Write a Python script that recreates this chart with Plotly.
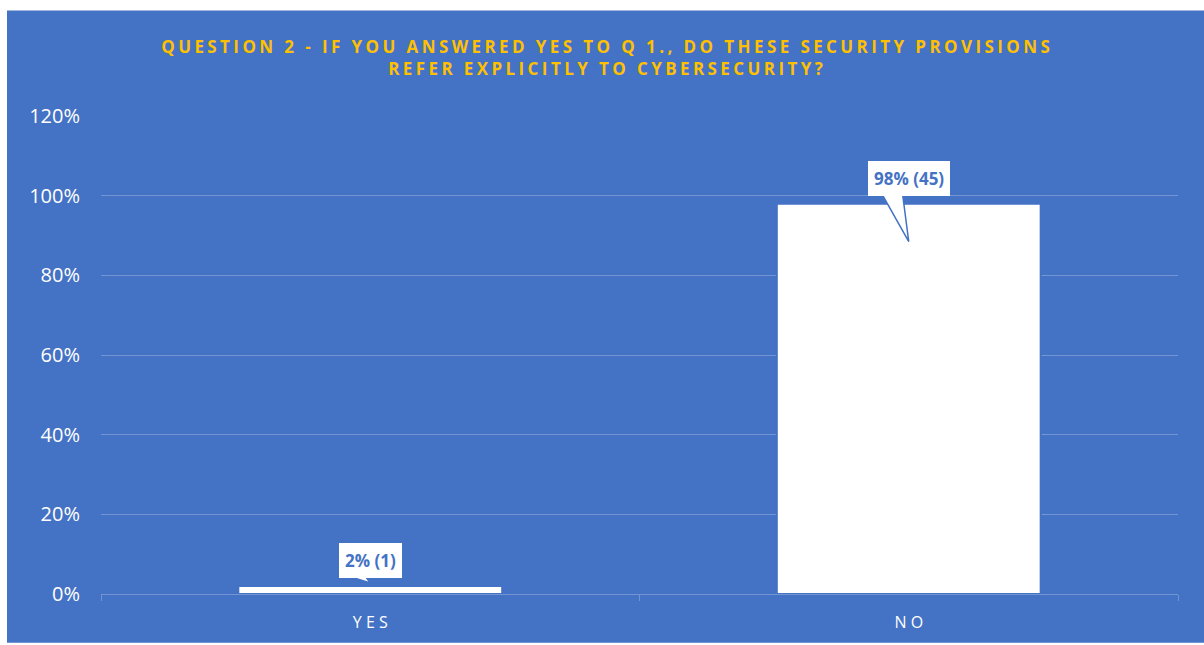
import plotly.graph_objects as go

# Survey answers
categories = ["YES", "NO"]
tick_labels = ["Y E S", "N O"]
shares = [2, 98]        # percent of respondents
counts = [1, 45]        # number of respondents
y_ticks = [0, 20, 40, 60, 80, 100, 120]

TITLE_LINES = [
    "QUESTION 2 - IF YOU ANSWERED YES TO Q 1., DO THESE SECURITY PROVISIONS",
    "REFER EXPLICITLY TO CYBERSECURITY?",
]

# Styling
BG = "#4472C4"
GOLD = "#FFC000"
GRID = "#7395D3"
FONT = "Open Sans"
W, H = 1204, 645
M = dict(l=101, r=26, t=116, b=49)
FRAME_LEFT, FRAME_TOP = 7, 10   # white strip left/top of the panel
Y_MAX = 120
CALLOUT_GAP = 2                  # label box sits this far above the bar top (%)
callout_tip = [0.75, -9.5]       # pointer tip relative to the bar top (%)


def spaced(text, sep="\u200a\u200a"):
    """Widen the letter spacing with hair spaces."""
    return sep.join(text)


fig = go.Figure()
fig.add_bar(
    x=categories,
    y=shares,
    width=0.49,
    marker=dict(color="white", line=dict(color=BG, width=2)),
    hoverinfo="skip",
)

shapes = []
annotations = []

# Blue panel behind the whole chart
pw = W - M["l"] - M["r"]
ph = H - M["t"] - M["b"]
shapes.append(dict(
    type="rect", xref="paper", yref="paper", layer="below",
    x0=(FRAME_LEFT - M["l"]) / pw, x1=(W - M["l"]) / pw,
    y0=-M["b"] / ph, y1=(H - FRAME_TOP - M["b"]) / ph,
    fillcolor=BG, line=dict(width=0),
))

# Callout labels with a pointer towards each bar
for i, (cat, share, count) in enumerate(zip(categories, shares, counts)):
    box_bottom = share + CALLOUT_GAP
    tip = share + callout_tip[i]
    shapes.append(dict(
        type="path", xref="x", yref="y", layer="above",
        path=(f"M {i - 0.052},{box_bottom + 1} "
              f"L {i},{tip} "
              f"L {i - 0.012},{box_bottom + 1}"),
        fillcolor="white", line=dict(color=BG, width=1.5),
    ))
    annotations.append(dict(
        x=cat, y=box_bottom, xref="x", yref="y",
        yanchor="bottom", xanchor="center",
        text=f"<b>{share}% ({count})</b>",
        showarrow=False, bgcolor="white", borderpad=6, borderwidth=0,
        font=dict(family=FONT, size=17, color=BG),
    ))

fig.update_layout(
    width=W, height=H,
    margin=dict(l=M["l"], r=M["r"], t=M["t"], b=M["b"], pad=0),
    paper_bgcolor="white",
    plot_bgcolor="rgba(0,0,0,0)",
    showlegend=False,
    shapes=shapes,
    annotations=annotations,
    title=dict(
        text="<br>".join(spaced(line) for line in TITLE_LINES),
        x=(FRAME_LEFT + W) / 2 / W, xref="container", xanchor="center",
        y=1 - 53 / H, yref="container", yanchor="top",
        font=dict(family=FONT, size=17, color=GOLD, weight="bold"),
    ),
    xaxis=dict(
        type="category",
        tickvals=categories, ticktext=tick_labels,
        tickfont=dict(family=FONT, size=16, color="white"),
        showline=True, linecolor=GRID, linewidth=1,
        ticks="outside", tickson="boundaries", ticklen=6,
        tickcolor=GRID, tickwidth=1,
        ticklabelstandoff=14,
        showgrid=False, zeroline=False,
    ),
    yaxis=dict(
        range=[0, Y_MAX + 0.05],
        tickvals=y_ticks, ticktext=[f"{v}%" for v in y_ticks],
        tickfont=dict(family=FONT, size=20, color="white"),
        showgrid=True, gridcolor=GRID, gridwidth=1,
        zeroline=False, showline=False, ticks="",
        ticklabelstandoff=20,
    ),
)

fig.write_html("out.html")
